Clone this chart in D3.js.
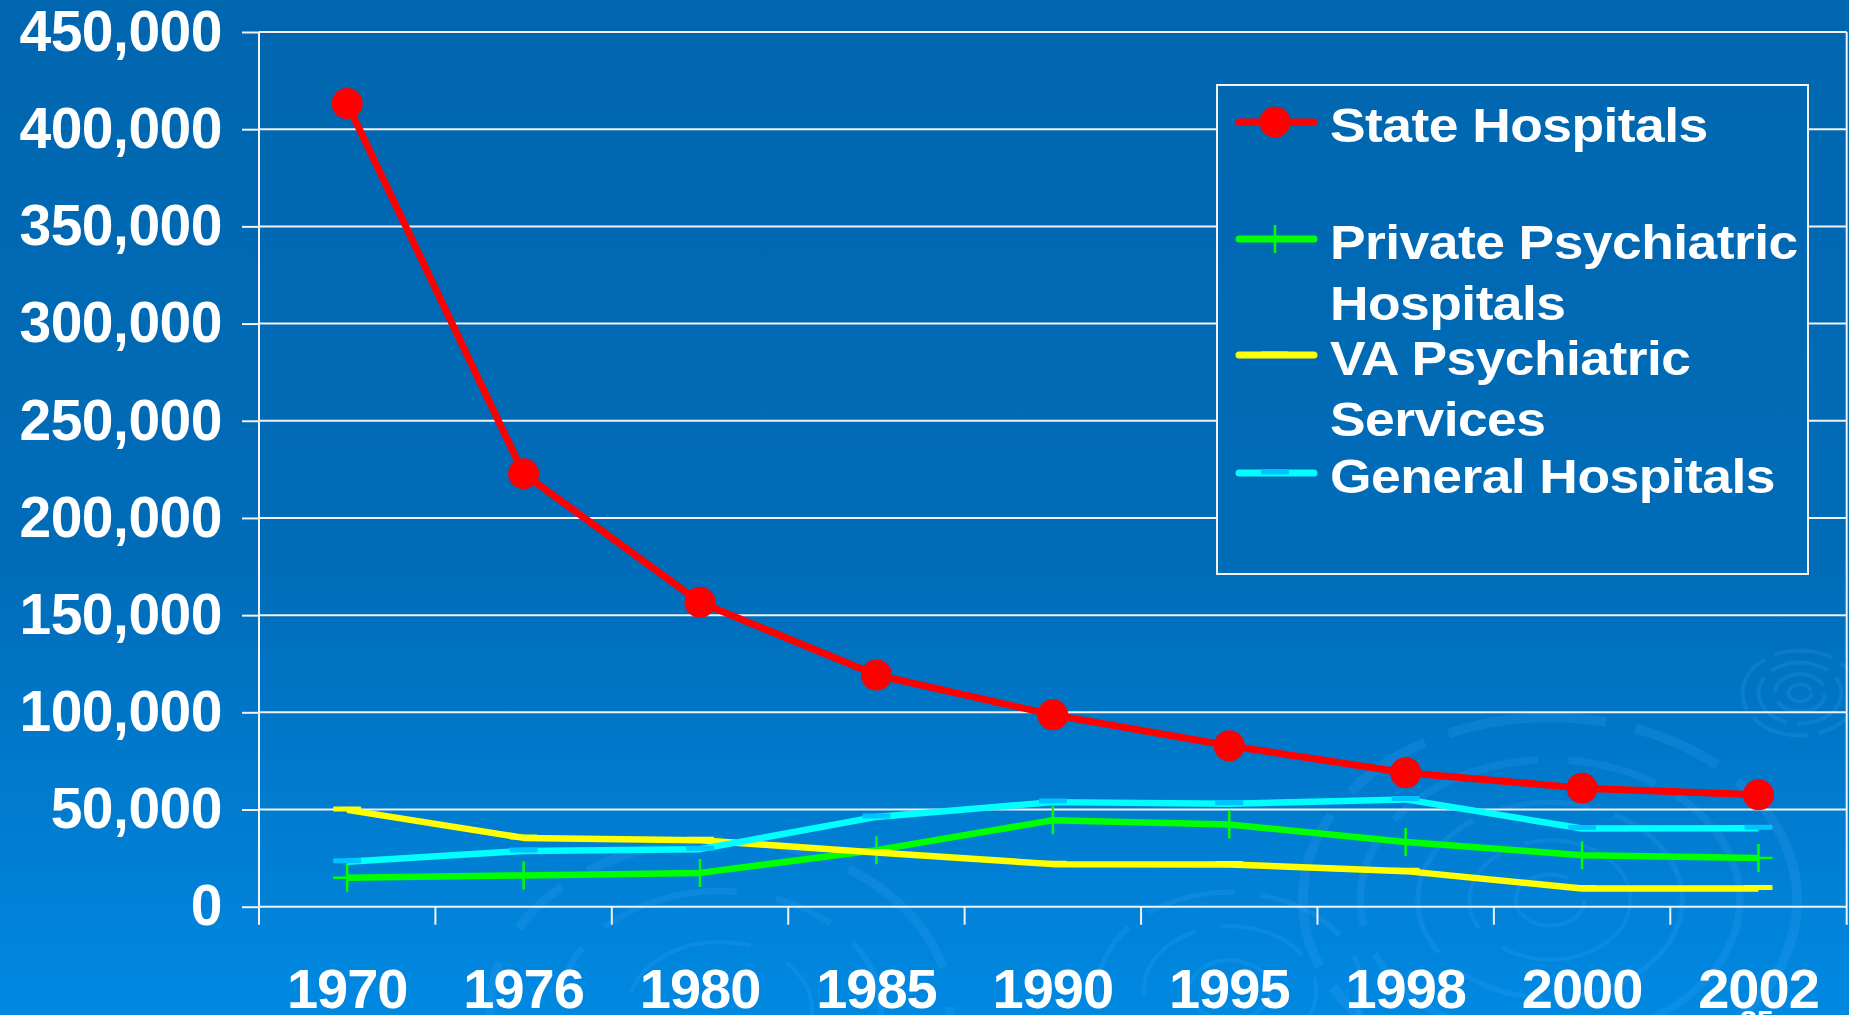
<!DOCTYPE html>
<html>
<head>
<meta charset="utf-8">
<script src="https://cdn.jsdelivr.net/npm/d3@7"></script>
<style>
  html, body { margin: 0; padding: 0; overflow: hidden; background: #0070c0; }
  svg { display: block; }
  text { font-family: "Liberation Sans", Arial, Helvetica, sans-serif; font-weight: bold; fill: #fff; }
</style>
</head>
<body>
<div id="chart"></div>
<script>
// Psychiatric beds by type of hospital, 1970–2002

const years = ["1970", "1976", "1980", "1985", "1990", "1995", "1998", "2000", "2002"];
const stateHospitals   = [413200, 222800, 156600, 119200, 98700, 82800, 68900, 61000, 57600];
const privatePsych     = [14900, 16100, 17400, 29100, 44500, 42300, 33300, 26500, 25100];
const vaPsych          = [49800, 35400, 34200, 27900, 21900, 21700, 18300, 9400, 9400];
const generalHospitals = [23100, 28700, 29600, 46200, 53800, 53000, 55200, 40200, 40400];
const yTicks = [0, 50000, 100000, 150000, 200000, 250000, 300000, 350000, 400000, 450000];

const series = [
  { label: ["State Hospitals"], values: stateHospitals, color: "#ff0000", marker: "circle" },
  { label: ["Private Psychiatric", "Hospitals"], values: privatePsych, color: "#00ff00", marker: "plus" },
  { label: ["VA Psychiatric", "Services"], values: vaPsych, color: "#ffff00", marker: "dash" },
  { label: ["General Hospitals"], values: generalHospitals, color: "#00ffff", marker: "dash", markerColor: "#00c4ff" }
];

const W = 1849, H = 1015;
const margin = { top: 32, right: 2.3, bottom: 108.3, left: 259 };

const svg = d3.select("#chart").append("svg").attr("width", W).attr("height", H);

// background
const defs = svg.append("defs");
const grad = defs.append("linearGradient").attr("id", "bg")
  .attr("gradientUnits", "userSpaceOnUse").attr("x1", 0).attr("y1", 0).attr("x2", 0).attr("y2", H);
grad.append("stop").attr("offset", 0).attr("stop-color", "#0066af");
grad.append("stop").attr("offset", 0.55).attr("stop-color", "#006cb8");
grad.append("stop").attr("offset", 1).attr("stop-color", "#0089e2");
svg.append("rect").attr("width", W).attr("height", H).attr("fill", "url(#bg)");

// faint ripple decoration of the slide template
const ripples = [
  { cx: 1550, cy: 900, r: [30, 70, 115, 165, 215], dash: "160 30 90 25" },
  { cx: 1800, cy: 693, r: [10, 22, 36, 50], dash: "60 10" },
  { cx: 720, cy: 1010, r: [80, 140, 200], dash: "140 40 60 30" },
  { cx: 1230, cy: 990, r: [35, 75, 115], dash: "90 25" }
];
const gRip = svg.append("g").attr("fill", "none").attr("stroke", "rgba(70,170,255,0.17)");
ripples.forEach(rp => {
  gRip.selectAll(null).data(rp.r).enter().append("ellipse")
    .attr("cx", rp.cx).attr("cy", rp.cy)
    .attr("rx", d => d * 1.15).attr("ry", d => d * 0.85)
    .attr("stroke-width", d => Math.max(4, d / 22))
    .attr("stroke-dasharray", rp.dash);
});

const x = d3.scaleBand().domain(years).range([margin.left, W - margin.right]).padding(0);
const y = d3.scaleLinear().domain([0, 450000]).range([H - margin.bottom, margin.top]);
const cx = d => x(d) + x.bandwidth() / 2;
const tickLen = 18;

// gridlines
svg.append("g").selectAll("line").data(yTicks).enter().append("line")
  .attr("x1", margin.left).attr("x2", W - margin.right)
  .attr("y1", d => y(d)).attr("y2", d => y(d))
  .attr("stroke", "#f2f2f2").attr("stroke-width", 2);

// y axis
const gY = svg.append("g").attr("transform", `translate(${margin.left},0)`)
  .call(d3.axisLeft(y).tickValues(yTicks).tickFormat(d3.format(",")).tickSize(17).tickSizeOuter(0).tickPadding(20));
gY.select(".domain").remove();
gY.selectAll(".tick line").attr("stroke", "#f2f2f2").attr("stroke-width", 2);
gY.selectAll(".tick text").attr("font-size", 57).attr("font-family", null).attr("fill", "#fff")
  .attr("letter-spacing", "-0.5px");

// frame verticals (left axis + right edge) and category boundary ticks
const bounds = years.map(d => x(d)).concat([x.range()[1]]);
svg.append("g").selectAll("line").data(bounds).enter().append("line")
  .attr("x1", d => d).attr("x2", d => d)
  .attr("y1", (d, i) => (i === 0 || i === bounds.length - 1) ? y(450000) : y(0))
  .attr("y2", y(0) + tickLen)
  .attr("stroke", "#f2f2f2").attr("stroke-width", 2);

// x axis labels
const gX = svg.append("g").attr("transform", `translate(0,${y(0)})`)
  .call(d3.axisBottom(x).tickSize(0));
gX.select(".domain").remove();
gX.selectAll(".tick text").attr("font-size", 56).attr("font-family", null).attr("fill", "#fff")
  .attr("dy", null).attr("y", 101).attr("letter-spacing", "-1px");

// series lines and markers
const line = d3.line().x((d, i) => cx(years[i])).y(d => y(d));

function drawMarker(g, s, px, py) {
  const col = s.markerColor || s.color;
  if (s.marker === "circle") {
    g.append("ellipse").attr("cx", px).attr("cy", py).attr("rx", 15.5).attr("ry", 15.5).attr("fill", col);
  } else if (s.marker === "plus") {
    g.append("path").attr("d", `M${px - 14},${py}H${px + 14}M${px},${py - 14}V${py + 14}`)
      .attr("stroke", col).attr("stroke-width", 2.5).attr("fill", "none");
  } else {
    g.append("rect").attr("x", px - 14).attr("y", py - 3.5).attr("width", 28).attr("height", 5)
      .attr("rx", 1).attr("fill", col);
  }
}

series.forEach(s => {
  const g = svg.append("g");
  g.append("path").datum(s.values).attr("d", line)
    .attr("fill", "none").attr("stroke", s.color)
    .attr("stroke-width", s.marker === "circle" ? 7 : 6.5)
    .attr("stroke-linejoin", "round");
  s.values.forEach((v, i) => drawMarker(g, s, cx(years[i]), y(v)));
});

// legend
const legend = { x: 1217, y: 85, w: 591, h: 489 };
const baselines = [142, 259, 375, 493];
const lineGap = 61;
const gL = svg.append("g");
gL.append("rect").attr("x", legend.x).attr("y", legend.y).attr("width", legend.w).attr("height", legend.h)
  .attr("fill", "url(#bg)").attr("stroke", "#f2f2f2").attr("stroke-width", 2);

series.forEach((s, i) => {
  const ly = baselines[i] - 20;
  gL.append("line").attr("x1", 1239).attr("x2", 1314).attr("y1", ly).attr("y2", ly)
    .attr("stroke", s.color).attr("stroke-width", 7).attr("stroke-linecap", "round");
  drawMarker(gL, s, 1275, ly);
  s.label.forEach((t, k) => {
    gL.append("text")
      .attr("transform", `translate(1330,${baselines[i] + k * lineGap}) scale(1.09,1)`)
      .attr("font-size", 49).attr("letter-spacing", "-0.5px")
      .text(t);
  });
});

// slide number, cut off at bottom edge
svg.append("text").attr("x", 1740).attr("y", 1031).attr("font-size", 30).attr("font-weight", "normal").text("85");
</script>
</body>
</html>
